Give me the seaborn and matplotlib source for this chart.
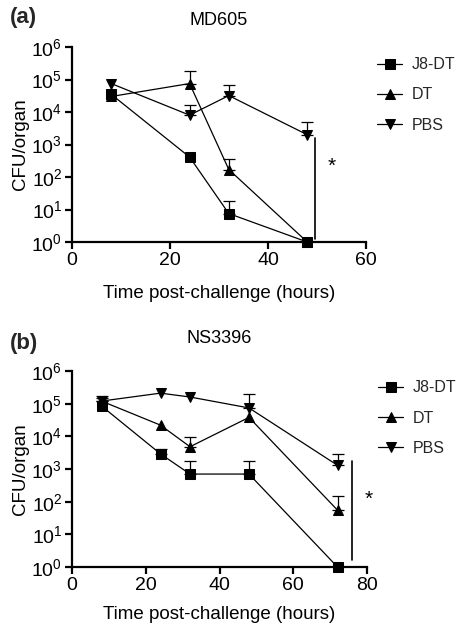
import numpy as np
import pandas as pd
import matplotlib
matplotlib.use("Agg")
import matplotlib.pyplot as plt
import seaborn as sns
from matplotlib.ticker import LogFormatterMathtext, NullLocator

# ---------------- data ----------------
groups = ["J8-DT", "DT", "PBS"]

# Panel (a) MD605
a_time = [8, 24, 32, 48]
a_j8 = [3.5e4, 4.1e2, 7.5, 1.0]
a_dt = [3.0e4, 7.5e4, 1.7e2, 1.0]
a_pbs = [7.5e4, 8.0e3, 3.2e4, 2.0e3]
a_j8_top = [np.nan, np.nan, 18, np.nan]
a_dt_top = [np.nan, 1.8e5, 3.5e2, np.nan]
a_pbs_top = [np.nan, 1.6e4, 7.0e4, 5.0e3]

# Panel (b) NS3396
b_time = [8, 24, 32, 48, 72]
b_j8 = [8.5e4, 2.9e3, 7.0e2, 7.0e2, 1.0]
b_dt = [1.2e5, 2.2e4, 4.8e3, 3.8e4, 55]
b_pbs = [1.2e5, 2.1e5, 1.6e5, 7.4e4, 1.3e3]
b_j8_top = [np.nan, 4.0e3, 1.7e3, 1.7e3, np.nan]
b_dt_top = [1.5e5, np.nan, 9.5e3, np.nan, 1.5e2]
b_pbs_top = [1.7e5, np.nan, np.nan, 2.0e5, 2.8e3]

titles = ["MD605", "NS3396"]
panel_tags = ["(a)", "(b)"]
x_max = [60, 80]
y_ticks = [1e0, 1e1, 1e2, 1e3, 1e4, 1e5, 1e6]
x_label = "Time post-challenge (hours)"
y_label = "CFU/organ"

# significance bars: (x, y_low, y_high, star_x, star_y)
sig_a = (49.5, 1.2, 1.6e3, 53, 2.2e2)
sig_b = (76, 1.6, 1.7e3, 80.5, 1.2e2)

# ---------------- style ----------------
sns.set_theme(style="ticks")
plt.rcParams["font.family"] = ["Liberation Sans", "DejaVu Sans"]
plt.rcParams["mathtext.fontset"] = "custom"
plt.rcParams["mathtext.rm"] = "Liberation Sans"
plt.rcParams["mathtext.it"] = "Liberation Sans:italic"
plt.rcParams["mathtext.bf"] = "Liberation Sans:bold"

W, H = 459, 627
fig = plt.figure(figsize=(W / 100, H / 100), dpi=100)

def px_axes(left, top, right, bottom):
    return fig.add_axes([left / W, 1 - bottom / H, (right - left) / W, (bottom - top) / H])

ax_a = px_axes(72, 47, 366, 242)
ax_b = px_axes(72, 371, 367, 567)

markers = {"J8-DT": "s", "DT": "^", "PBS": "v"}
palette = {g: "black" for g in groups}

def build_df(time, j8, dt, pbs):
    rows = []
    for g, vals in zip(groups, [j8, dt, pbs]):
        for t, v in zip(time, vals):
            rows.append({"time": t, "cfu": v, "group": g})
    return pd.DataFrame(rows)

panels = [
    (ax_a, build_df(a_time, a_j8, a_dt, a_pbs), a_time, [a_j8, a_dt, a_pbs],
     [a_j8_top, a_dt_top, a_pbs_top], sig_a, 0),
    (ax_b, build_df(b_time, b_j8, b_dt, b_pbs), b_time, [b_j8, b_dt, b_pbs],
     [b_j8_top, b_dt_top, b_pbs_top], sig_b, 1),
]

legend_pos = [(1.015, 0.98), (1.015, 0.985)]
label_pads = [12, 9]

for ax, df, time, vals, tops, sig, i in panels:
    ax.set_yscale("log")
    # error bars (upper only)
    for v, top in zip(vals, tops):
        v = np.array(v, dtype=float)
        top = np.array(top, dtype=float)
        m = ~np.isnan(top)
        if m.any():
            t = np.array(time)[m]
            ax.errorbar(t, v[m], yerr=[np.zeros(m.sum()), top[m] - v[m]],
                        fmt="none", ecolor="black", elinewidth=0.9,
                        capsize=4, capthick=0.9, zorder=2, clip_on=False)
    sns.lineplot(data=df, x="time", y="cfu", hue="group", style="group",
                 hue_order=groups, style_order=groups,
                 palette=palette, markers=markers, dashes=False,
                 markersize=7.5, linewidth=0.9, markeredgecolor="black",
                 ax=ax, zorder=3, clip_on=False, legend=True)
    ax.set_ylim(1, 1e6)
    ax.set_xlim(0, x_max[i])
    ax.set_xticks(np.arange(0, x_max[i] + 1, 20))
    ax.set_yticks(y_ticks)
    ax.yaxis.set_major_formatter(LogFormatterMathtext())
    ax.yaxis.set_minor_locator(NullLocator())
    for s in ["top", "right"]:
        ax.spines[s].set_visible(False)
    for s in ["left", "bottom"]:
        ax.spines[s].set_linewidth(1.6)
        ax.spines[s].set_color("black")
    ax.tick_params(axis="both", direction="out", length=5, width=1.6,
                   labelsize=14, color="black", labelcolor="black", pad=2)
    ax.set_xlabel(x_label, fontsize=13.5, labelpad=label_pads[i], color="black")
    ax.set_ylabel(y_label, fontsize=13.5, labelpad=2, color="black")
    ax.set_title(titles[i], fontsize=13, pad=16 if i == 0 else 20, color="black")
    # significance bar
    ax.plot([sig[0], sig[0]], [sig[1], sig[2]], color="black", lw=1.2, clip_on=False)
    ax.text(sig[3], sig[4], "*", fontsize=15, ha="center", va="center", color="black")
    # legend
    handles, labels = ax.get_legend_handles_labels()
    ax.legend(handles, labels, loc="upper left", bbox_to_anchor=legend_pos[i],
              frameon=False, fontsize=11.5, labelspacing=0.95, handlelength=1.6,
              handletextpad=0.6, borderaxespad=0)
    ax.grid(False)

fig.text(10 / W, 1 - 18 / H, panel_tags[0], fontsize=16, fontweight="bold", va="center", ha="left")
fig.text(10 / W, 1 - 343 / H, panel_tags[1], fontsize=16, fontweight="bold", va="center", ha="left")

fig.savefig("out.png", dpi=100, facecolor="white")
